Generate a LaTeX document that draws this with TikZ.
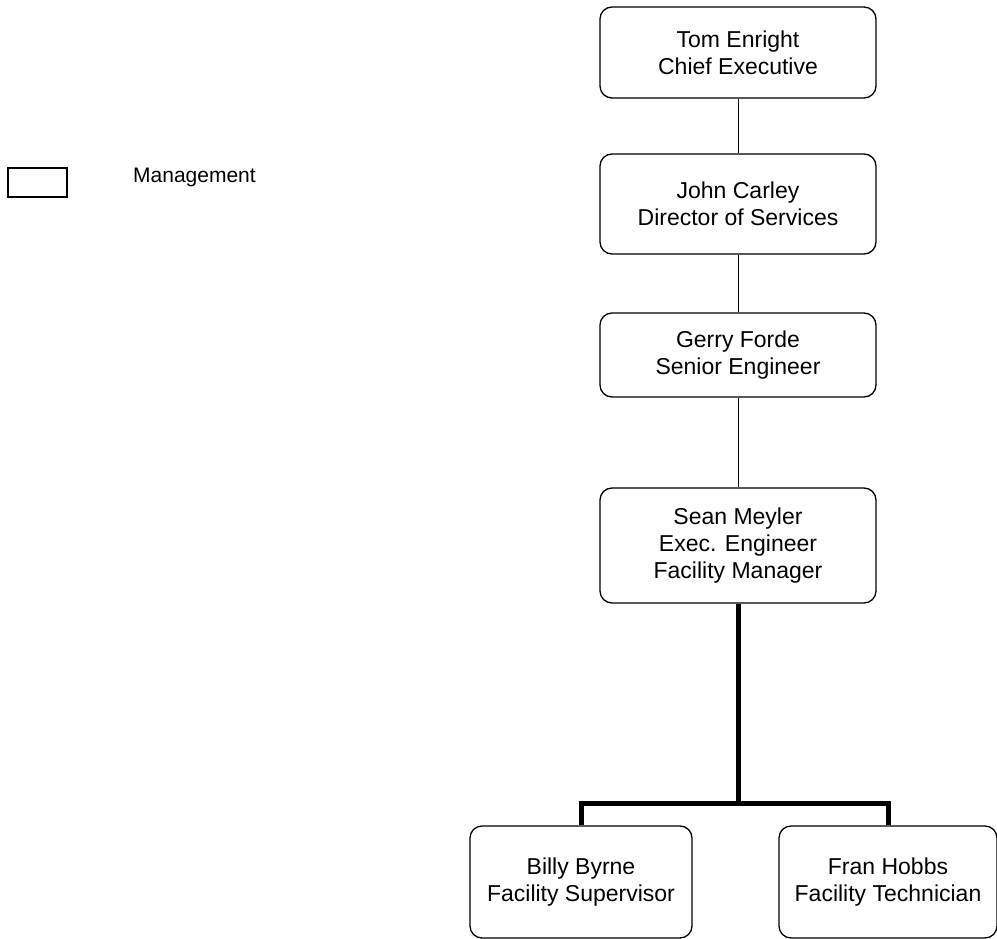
\documentclass[tikz,border=0pt]{standalone}
\usepackage{fontspec}
\setmainfont{Liberation Sans}
\usepackage{tikz}
\usetikzlibrary{arrows.meta}

\begin{document}
\begin{tikzpicture}[x = 1pt, y = -1pt,
	staff/.style = {draw, rounded corners = 12pt, line width = 1.3pt, align = center, inner sep = 0pt,
		font = \fontsize{23}{27}\selectfont, minimum width = 276pt},
	link/.style = {line width = 0.8pt},
	team/.style = {line width = 5pt}]
			\useasboundingbox (0,0) rectangle (997,939);
			% legend
			\node (key) at (37.5,182.5) [draw, line width = 1.3pt, minimum width = 59pt, minimum height = 29pt] {};
			\node (keytext) at (133,177) [anchor = west, inner sep = 0pt, font = \fontsize{21}{25}\selectfont] {Management};
			% chain of command
			\node (te) at (738,52.5) [staff, minimum height = 91pt] {Tom Enright\\Chief Executive};
			\node (jc) at (738,204) [staff, minimum height = 100pt] {John Carley\\Director of Services};
			\node (gf) at (738,355) [staff, minimum height = 84pt] {Gerry Forde\\Senior Engineer};
			\node (sm) at (738,545.5) [staff, minimum height = 115pt] {Sean Meyler\\Exec. Engineer\\Facility Manager};
			\node (bb) at (581,882) [staff, minimum width = 222pt, minimum height = 112pt] {Billy Byrne\\Facility Supervisor};
			\node (fh) at (888,882) [staff, minimum width = 218pt, minimum height = 112pt] {Fran Hobbs\\Facility Technician};
			\coordinate (split) at (738,803);
			\draw[link] (te) edge (jc);
			\draw[link] (jc) edge (gf);
			\draw[link] (gf) edge (sm);
			\draw[team] (sm) -- (split);
			\draw[team] (split) -| (bb);
			\draw[team] (split) -| (fh);
			\end{tikzpicture}
\end{document}
